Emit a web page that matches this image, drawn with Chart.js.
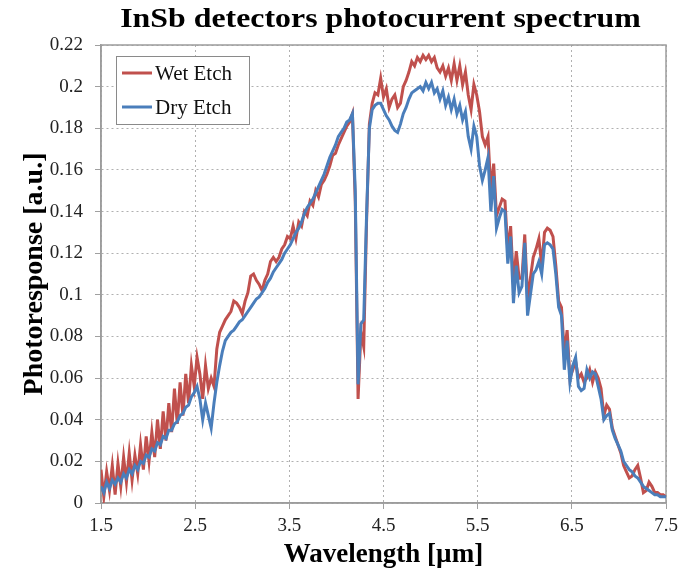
<!DOCTYPE html>
<html lang="en">
  <head>
    <meta charset="UTF-8">
    <!-- Chart.js CDN -->
    <script src="https://cdn.jsdelivr.net/npm/chart.js"></script>
    <style>
      html, body { margin: 0; padding: 0; background: #fff; }
      #specChart { display: block; }
    </style>
  </head>
  <body>
    <canvas id="specChart" width="693" height="579"></canvas>

    <script>
      // wavelength in um
      const wavelength = [
        1.50, 1.53, 1.56, 1.59, 1.62, 1.65, 1.68, 1.71, 1.74, 1.77,
        1.80, 1.83, 1.86, 1.89, 1.92, 1.95, 1.98, 2.01, 2.04, 2.07,
        2.10, 2.13, 2.16, 2.19, 2.22, 2.25, 2.28, 2.31, 2.34, 2.37,
        2.40, 2.43, 2.46, 2.49, 2.52, 2.55, 2.58, 2.61, 2.64, 2.67,
        2.70, 2.73, 2.76, 2.79, 2.82, 2.85, 2.88, 2.91, 2.94, 2.97,
        3.00, 3.03, 3.06, 3.09, 3.12, 3.15, 3.18, 3.21, 3.24, 3.27,
        3.30, 3.33, 3.36, 3.39, 3.42, 3.45, 3.48, 3.51, 3.54, 3.57,
        3.60, 3.63, 3.66, 3.69, 3.72, 3.75, 3.78, 3.81, 3.84, 3.87,
        3.90, 3.93, 3.96, 3.99, 4.02, 4.05, 4.08, 4.11, 4.14, 4.17,
        4.20, 4.23, 4.26, 4.29, 4.32, 4.35, 4.38, 4.41, 4.44, 4.47,
        4.50, 4.53, 4.56, 4.59, 4.62, 4.65, 4.68, 4.71, 4.74, 4.77,
        4.80, 4.83, 4.86, 4.89, 4.92, 4.95, 4.98, 5.01, 5.04, 5.07,
        5.10, 5.13, 5.16, 5.19, 5.22, 5.25, 5.28, 5.31, 5.34, 5.37,
        5.40, 5.43, 5.46, 5.49, 5.52, 5.55, 5.58, 5.61, 5.64, 5.67,
        5.70, 5.73, 5.76, 5.79, 5.82, 5.85, 5.88, 5.91, 5.94, 5.97,
        6.00, 6.03, 6.06, 6.09, 6.12, 6.15, 6.18, 6.21, 6.24, 6.27,
        6.30, 6.33, 6.36, 6.39, 6.42, 6.45, 6.48, 6.51, 6.54, 6.57,
        6.60, 6.63, 6.66, 6.69, 6.72, 6.75, 6.78, 6.81, 6.84, 6.87,
        6.90, 6.93, 6.96, 6.99, 7.02, 7.05, 7.08, 7.11, 7.14, 7.17,
        7.20, 7.23, 7.26, 7.29, 7.32, 7.35, 7.38, 7.41, 7.44, 7.47,
        7.50
      ];

      const wetEtch = [
        0.016, 0.003, 0.015, 0.006, 0.018, 0.004, 0.019, 0.008, 0.022, 0.010,
        0.024, 0.011, 0.023, 0.014, 0.028, 0.016, 0.032, 0.020, 0.034, 0.022,
        0.040, 0.026, 0.044, 0.030, 0.048, 0.034, 0.055, 0.038, 0.058, 0.042,
        0.062, 0.048, 0.066, 0.056, 0.070, 0.062, 0.050, 0.066, 0.055, 0.060,
        0.056, 0.074, 0.082, 0.085, 0.088, 0.090, 0.092, 0.097, 0.096, 0.094,
        0.091, 0.097, 0.101, 0.109, 0.110, 0.107, 0.105, 0.102, 0.107, 0.110,
        0.116, 0.118, 0.116, 0.118, 0.122, 0.124, 0.128, 0.127, 0.133, 0.127,
        0.135, 0.133, 0.140, 0.138, 0.145, 0.143, 0.150, 0.147, 0.153, 0.155,
        0.158, 0.162, 0.167, 0.168, 0.172, 0.175, 0.178, 0.181, 0.183, 0.187,
        0.145, 0.050, 0.082, 0.075, 0.135, 0.182, 0.192, 0.197, 0.196, 0.204,
        0.195, 0.199, 0.190, 0.194, 0.196, 0.190, 0.192, 0.200, 0.203, 0.207,
        0.212, 0.210, 0.214, 0.212, 0.215, 0.213, 0.215, 0.212, 0.214, 0.209,
        0.207, 0.210, 0.205, 0.209, 0.203, 0.211, 0.203, 0.210, 0.201, 0.207,
        0.196, 0.189, 0.201, 0.196, 0.188, 0.176, 0.172, 0.176, 0.150, 0.163,
        0.138, 0.142, 0.146, 0.145, 0.121, 0.133, 0.105, 0.121, 0.108, 0.108,
        0.129, 0.098, 0.108, 0.118, 0.122, 0.127, 0.114, 0.130, 0.132, 0.131,
        0.128, 0.114, 0.097, 0.094, 0.072, 0.083, 0.060, 0.064, 0.068, 0.060,
        0.062, 0.058, 0.060, 0.064, 0.058, 0.063, 0.060, 0.055, 0.042, 0.047,
        0.045, 0.036, 0.032, 0.028, 0.024, 0.018, 0.015, 0.012, 0.013, 0.016,
        0.018, 0.012, 0.005, 0.006, 0.010, 0.008, 0.005, 0.005, 0.004, 0.004,
        0.003
      ];

      const dryEtch = [
        0.008, 0.005, 0.010, 0.007, 0.011, 0.009, 0.012, 0.010, 0.014, 0.012,
        0.016, 0.014, 0.018, 0.016, 0.020, 0.019, 0.023, 0.022, 0.026, 0.025,
        0.029, 0.028, 0.032, 0.031, 0.035, 0.035, 0.038, 0.039, 0.042, 0.043,
        0.046, 0.047, 0.051, 0.053, 0.056, 0.050, 0.040, 0.048, 0.042, 0.036,
        0.048, 0.058, 0.066, 0.073, 0.078, 0.080, 0.082, 0.083, 0.085, 0.087,
        0.088, 0.090, 0.092, 0.094, 0.096, 0.098, 0.099, 0.101, 0.103, 0.106,
        0.108, 0.111, 0.113, 0.115, 0.117, 0.120, 0.122, 0.124, 0.127, 0.130,
        0.132, 0.135, 0.139, 0.142, 0.144, 0.146, 0.149, 0.152, 0.155, 0.158,
        0.162, 0.166, 0.169, 0.172, 0.176, 0.178, 0.180, 0.183, 0.184, 0.187,
        0.150, 0.057, 0.086, 0.088, 0.138, 0.180, 0.189, 0.191, 0.192, 0.192,
        0.189, 0.186, 0.184, 0.181, 0.179, 0.178, 0.182, 0.187, 0.190, 0.194,
        0.197, 0.198, 0.199, 0.200, 0.198, 0.202, 0.199, 0.202, 0.197, 0.199,
        0.194, 0.198, 0.191, 0.195, 0.189, 0.194, 0.187, 0.191, 0.184, 0.188,
        0.176, 0.170, 0.181, 0.176, 0.162, 0.155, 0.160, 0.166, 0.140, 0.157,
        0.132, 0.137, 0.141, 0.140, 0.115, 0.128, 0.096, 0.114, 0.101, 0.104,
        0.125, 0.090, 0.100, 0.110, 0.112, 0.116, 0.110, 0.124, 0.125, 0.124,
        0.122, 0.110, 0.094, 0.090, 0.064, 0.078, 0.058, 0.066, 0.070, 0.056,
        0.054, 0.055, 0.064, 0.060, 0.063, 0.062, 0.056, 0.050, 0.040, 0.042,
        0.043, 0.035, 0.031, 0.028, 0.025, 0.020, 0.018, 0.016, 0.015, 0.013,
        0.012, 0.010, 0.008, 0.007, 0.006, 0.005, 0.004, 0.004, 0.003, 0.003,
        0.003
      ];

      const xTicks = [1.5, 2.5, 3.5, 4.5, 5.5, 6.5, 7.5];
      const seriesNames = ['Wet Etch', 'Dry Etch'];
      const chartTitle = 'InSb detectors photocurrent spectrum';

      const SERIF = '"Liberation Serif", "Times New Roman", serif';
      const RED = '#C0504D';
      const BLUE = '#4A7EBB';

      Chart.defaults.font.family = SERIF;
      Chart.defaults.color = '#222';

      // frame, title and the boxed legend inside the plot
      const decorations = {
        id: 'decorations',
        beforeDatasetsDraw(chart) {
          const { ctx, chartArea: a } = chart;
          ctx.save();
          ctx.setLineDash([]);
          ctx.strokeStyle = '#9c9c9c';
          ctx.lineWidth = 1.5;
          ctx.strokeRect(a.left, a.top, a.right - a.left, a.bottom - a.top);
          ctx.restore();
        },
        afterDraw(chart) {
          const { ctx, chartArea: a } = chart;
          ctx.save();
          ctx.fillStyle = '#000';
          ctx.font = 'bold 27px ' + SERIF;
          ctx.textAlign = 'center';
          ctx.textBaseline = 'alphabetic';
          ctx.translate((a.left + a.right) / 2 - 3, 27);
          ctx.scale(1.18, 1);
          ctx.fillText(chartTitle, 0, 0);
          ctx.restore();

          // legend
          const bx = a.left + 15, by = a.top + 11, bw = 133, bh = 68;
          ctx.save();
          ctx.fillStyle = '#fff';
          ctx.fillRect(bx, by, bw, bh);
          ctx.strokeStyle = '#8a8a8a';
          ctx.lineWidth = 1;
          ctx.strokeRect(bx + 0.5, by + 0.5, bw, bh);
          ctx.font = '21px ' + SERIF;
          ctx.textBaseline = 'middle';
          ctx.fillStyle = '#111';
          chart.data.datasets.forEach((ds, i) => {
            const ly = by + 17 + i * 34;
            ctx.strokeStyle = ds.borderColor;
            ctx.lineWidth = 3;
            ctx.beginPath();
            ctx.moveTo(bx + 6, ly);
            ctx.lineTo(bx + 36, ly);
            ctx.stroke();
            ctx.fillText(ds.label, bx + 39, ly + 1);
          });
          ctx.restore();
        }
      };

      const ctx = document.getElementById('specChart').getContext('2d');

      const data = {
        datasets: [
          {
            label: seriesNames[0],
            data: wavelength.map((w, i) => ({ x: w, y: wetEtch[i] })),
            borderColor: RED,
            backgroundColor: RED,
            borderWidth: 3,
            pointRadius: 0,
            tension: 0,
            order: 1
          },
          {
            label: seriesNames[1],
            data: wavelength.map((w, i) => ({ x: w, y: dryEtch[i] })),
            borderColor: BLUE,
            backgroundColor: BLUE,
            borderWidth: 3,
            pointRadius: 0,
            tension: 0,
            order: 0
          }
        ]
      };

      new Chart(ctx, {
        type: 'line',
        data: data,
        plugins: [decorations],
        options: {
          responsive: false,
          animation: false,
          layout: { padding: { left: 0, right: 27, top: 45, bottom: 0 } },
          plugins: {
            legend: { display: false },
            title: { display: false },
            tooltip: { enabled: false }
          },
          scales: {
            x: {
              type: 'linear',
              min: 1.5,
              max: 7.5,
              afterBuildTicks: (scale) => { scale.ticks = xTicks.map(v => ({ value: v })); },
              afterFit: (scale) => { scale.height = 76; },
              ticks: {
                font: { size: 19 },
                padding: 6,
                maxRotation: 0,
                callback: (v) => Number(v).toFixed(1)
              },
              grid: { color: '#b0b0b0', tickColor: '#a0a0a0', tickLength: 6 },
              border: { color: '#9c9c9c', width: 1.5, dash: [2, 3] },
              title: {
                display: true,
                text: 'Wavelength [µm]',
                color: '#000',
                font: { size: 27, weight: 'bold' },
                padding: { top: 0, bottom: 8 }
              }
            },
            y: {
              min: 0,
              max: 0.22,
              afterFit: (scale) => { scale.width = 101; },
              ticks: {
                stepSize: 0.02,
                font: { size: 19 },
                padding: 12,
                callback: (v) => String(+Number(v).toFixed(2))
              },
              grid: { color: '#b0b0b0', tickColor: '#a0a0a0', tickLength: 6 },
              border: { color: '#9c9c9c', width: 1.5, dash: [2, 3] },
              title: {
                display: true,
                text: 'Photoresponse [a.u.]',
                color: '#000',
                font: { size: 28, weight: 'bold' },
                padding: { top: 18, bottom: 4 }
              }
            }
          }
        }
      });
    </script>
  </body>
</html>
